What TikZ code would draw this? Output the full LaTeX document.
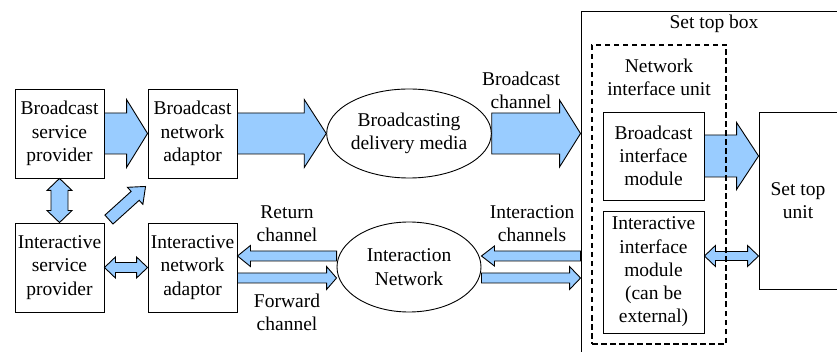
\documentclass[tikz,border=0pt]{standalone}
\usepackage{fontspec}
\setmainfont{Liberation Serif}
\usetikzlibrary{calc,shapes.geometric,backgrounds}
\definecolor{arrowblue}{RGB}{153,204,255}
\newcommand\diafont{\fontsize{19.5}{23.3}\selectfont}
\tikzset{
  box/.style={draw, line width=0.9pt, inner sep=0pt, align=center, font=\diafont},
  oval/.style={ellipse, draw, line width=0.9pt, inner sep=0pt, align=center, font=\diafont},
  lbl/.style={inner sep=0pt, align=center, font=\diafont},
  dashbox/.style={draw, line width=1.8pt, dash pattern=on 5.5pt off 3.5pt, inner sep=0pt},
  barrow/.style={fill=arrowblue, draw=black, line width=0.9pt, line join=miter}
}
% single block arrow: start, end, body half width, head half width, head length
\newcommand\sarrow[5]{%
  \filldraw[barrow] ($(#1)!#3pt!90:(#2)$)
    -- ($(#2)!#5pt!(#1)!#3pt!270:(#1)$)
    -- ($(#2)!#5pt!(#1)!#4pt!270:(#1)$)
    -- (#2)
    -- ($(#2)!#5pt!(#1)!#4pt!90:(#1)$)
    -- ($(#2)!#5pt!(#1)!#3pt!90:(#1)$)
    -- ($(#1)!#3pt!270:(#2)$) -- cycle;}
% double block arrow
\newcommand\darrow[5]{%
  \filldraw[barrow] (#1)
    -- ($(#1)!#5pt!(#2)!#4pt!90:(#2)$)
    -- ($(#1)!#5pt!(#2)!#3pt!90:(#2)$)
    -- ($(#2)!#5pt!(#1)!#3pt!270:(#1)$)
    -- ($(#2)!#5pt!(#1)!#4pt!270:(#1)$)
    -- (#2)
    -- ($(#2)!#5pt!(#1)!#4pt!90:(#1)$)
    -- ($(#2)!#5pt!(#1)!#3pt!90:(#1)$)
    -- ($(#1)!#5pt!(#2)!#3pt!270:(#2)$)
    -- ($(#1)!#5pt!(#2)!#4pt!270:(#2)$) -- cycle;}
\begin{document}
\begin{tikzpicture}[x=1pt, y=-1pt]
\useasboundingbox (0,0) rectangle (837,352);
% left column
\node[box, minimum width=89pt, minimum height=89pt] (bsp) at (59.5,133.5) {Broadcast\\service\\provider};
\node[box, minimum width=89pt, minimum height=89pt] (bna) at (192.5,133.5) {Broadcast\\network\\adaptor};
\node[box, minimum width=89pt, minimum height=89pt] (isp) at (59.5,267.5) {Interactive\\service\\provider};
\node[box, minimum width=89pt, minimum height=89pt] (ina) at (192.5,267.5) {Interactive\\network\\adaptor};
% media
\node[oval, minimum width=144pt, minimum height=89pt] (bdm) at (409,133.5) {Broadcasting\\delivery media};
\node[oval, minimum width=144pt, minimum height=90pt] (inet) at (409,267) {Interaction\\Network};
% set top box
\node[draw, line width=0.9pt, inner sep=0pt, minimum width=266pt, minimum height=349pt] (stb) at (714,185.5) {};
\node[lbl] (stbl) at (714,24) {Set top box};
\node[lbl] (niul) at (659,77) {Network\\interface unit};
\node[box, minimum width=101pt, minimum height=88pt] (bim) at (653.5,156) {Broadcast\\interface\\module};
\node[box, minimum width=101pt, minimum height=122pt] (iim) at (653.5,272) {Interactive\\interface\\module\\(can be\\external)};
\node[box, minimum width=78pt, minimum height=177pt] (stu) at (798,200.5) {Set top\\unit};
% labels
\node[lbl] (bcl) at (521,90) {Broadcast\\channel};
\node[lbl] (icl) at (532,223.5) {Interaction\\channels};
\node[lbl] (rcl) at (287,223.5) {Return\\channel};
\node[lbl] (fcl) at (287,312.5) {Forward\\channel};
% connector end points
\coordinate (retA) at (inet.west |- 0,256);
\coordinate (retB) at (ina.east |- 0,256);
\coordinate (fwdA) at (ina.east |- 0,278);
\coordinate (fwdB) at (inet.west |- 0,278);
\coordinate (icinA) at (stb.west |- 0,256);
\coordinate (icinB) at (inet.east |- 0,256);
\coordinate (icoutA) at (inet.east |- 0,278);
\coordinate (icoutB) at (stb.west |- 0,278);
\coordinate (bcB) at (stb.west |- bdm.east);
\coordinate (bimB) at (stu.west |- bim.east);
\coordinate (iimA) at (iim.east |- 0,256);
\coordinate (iimB) at (stu.west |- 0,256);
\coordinate (diagA) at ($(isp.north east)+(4.5,-3)$);
\coordinate (diagB) at ($(bna.south west)+(-2,8)$);
\begin{pgfonlayer}{background}
\sarrow{bsp.east}{bna.west}{20.5}{34}{21}
\sarrow{bna.east}{bdm.west}{20.5}{34}{22}
\sarrow{bdm.east}{bcB}{20.5}{33.5}{21}
\sarrow{bim.east}{bimB}{21}{33.5}{22}
\sarrow{retA}{retB}{5}{10.5}{13}
\sarrow{fwdA}{fwdB}{5}{11.5}{10}
\sarrow{icinA}{icinB}{5}{10}{13}
\sarrow{icoutA}{icoutB}{5}{11.5}{11}
\darrow{isp.east}{ina.west}{5}{10.5}{11}
\darrow{bsp.south}{isp.north}{8.5}{12.5}{12}
\darrow{iimA}{iimB}{4.5}{10.5}{11}
\sarrow{diagA}{diagB}{6}{11.5}{14}
\end{pgfonlayer}
\node[dashbox, minimum width=134pt, minimum height=299pt] (niu) at (659,194.5) {};
\end{tikzpicture}
\end{document}
